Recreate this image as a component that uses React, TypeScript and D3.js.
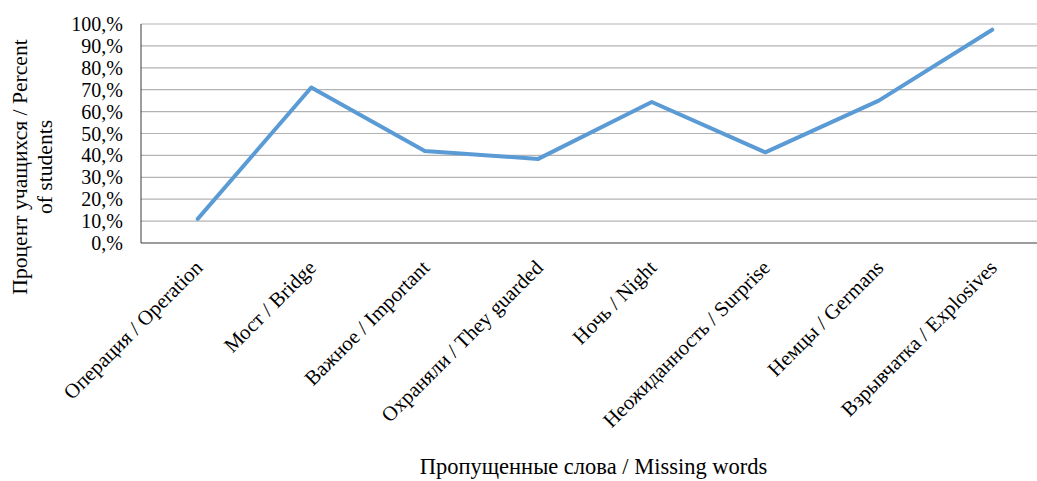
import { useEffect, useRef } from "react";
import * as d3 from "d3";

const categories = [
  "Операция / Operation",
  "Мост / Bridge",
  "Важное / Important",
  "Охраняли / They guarded",
  "Ночь / Night",
  "Неожиданность / Surprise",
  "Немцы / Germans",
  "Взрывчатка / Explosives",
];

const percentValues = [11, 71, 42, 38.4, 64.4, 41.4, 65, 97.4];

const yTicks = [0, 10, 20, 30, 40, 50, 60, 70, 80, 90, 100];

const yTitleLines = ["Процент учащихся / Percent", "of students"];
const xTitle = "Пропущенные слова / Missing words";

const WIDTH = 1037;
const HEIGHT = 481;
const FONT = "'Liberation Serif', 'Times New Roman', serif";

export default function App() {
  const svgRef = useRef<SVGSVGElement>(null);

  useEffect(() => {
    if (!svgRef.current) return;
    document.body.style.margin = "0";

    const margin = { top: 24, left: 141, bottom: 243, right: 1049 };

    const svg = d3.select(svgRef.current);
    svg.selectAll("*").remove();

    const x = d3
      .scaleBand<string>()
      .domain(categories)
      .range([margin.left, margin.right]);

    const y = d3
      .scaleLinear()
      .domain([0, 100])
      .range([margin.bottom, margin.top]);

    // gridlines
    svg
      .append("g")
      .selectAll("line")
      .data(yTicks.filter((t) => t > 0))
      .join("line")
      .attr("x1", margin.left)
      .attr("x2", margin.right)
      .attr("y1", (d) => y(d))
      .attr("y2", (d) => y(d))
      .attr("stroke", "#b3b3b3")
      .attr("stroke-width", 1.2);

    // axes lines
    svg
      .append("line")
      .attr("x1", margin.left)
      .attr("x2", margin.left)
      .attr("y1", margin.top)
      .attr("y2", margin.bottom)
      .attr("stroke", "#3a3a3a")
      .attr("stroke-width", 1);
    svg
      .append("line")
      .attr("x1", margin.left)
      .attr("x2", margin.right)
      .attr("y1", margin.bottom)
      .attr("y2", margin.bottom)
      .attr("stroke", "#3a3a3a")
      .attr("stroke-width", 1.2);

    // y tick labels
    svg
      .append("g")
      .selectAll("text")
      .data(yTicks)
      .join("text")
      .attr("x", margin.left - 18)
      .attr("y", (d) => y(d))
      .attr("dy", "0.35em")
      .attr("text-anchor", "end")
      .attr("font-family", FONT)
      .attr("font-size", 20)
      .attr("fill", "#000")
      .text((d) => `${d},%`);

    // x tick labels
    svg
      .append("g")
      .selectAll("text")
      .data(categories)
      .join("text")
      .attr(
        "transform",
        (d) => `translate(${(x(d) ?? 0) + x.bandwidth() / 2 + 6},${margin.bottom + 26}) rotate(-45)`
      )
      .attr("text-anchor", "end")
      .attr("font-family", FONT)
      .attr("font-size", 20.8)
      .attr("fill", "#000")
      .text((d) => d);

    // line
    const line = d3
      .line<number>()
      .x((_, i) => (x(categories[i]) ?? 0) + x.bandwidth() / 2)
      .y((d) => y(d));

    svg
      .append("path")
      .datum(percentValues)
      .attr("d", line)
      .attr("fill", "none")
      .attr("stroke", "#5b9bd5")
      .attr("stroke-width", 4)
      .attr("stroke-linejoin", "round")
      .attr("stroke-linecap", "round");

    // y title
    svg
      .append("text")
      .attr("transform", `translate(27,167) rotate(-90)`)
      .attr("text-anchor", "middle")
      .attr("font-family", FONT)
      .attr("font-size", 21.6)
      .attr("fill", "#000")
      .selectAll("tspan")
      .data(yTitleLines)
      .join("tspan")
      .attr("x", 0)
      .attr("dy", (_, i) => (i === 0 ? 0 : 24.5))
      .text((d) => d);

    // x title
    svg
      .append("text")
      .attr("x", 593.5)
      .attr("y", 474)
      .attr("text-anchor", "middle")
      .attr("font-family", FONT)
      .attr("font-size", 22.5)
      .attr("fill", "#000")
      .text(xTitle);
  }, []);

  return (
    <svg
      ref={svgRef}
      width={WIDTH}
      height={HEIGHT}
      style={{ display: "block", background: "#fff" }}
    />
  );
}
